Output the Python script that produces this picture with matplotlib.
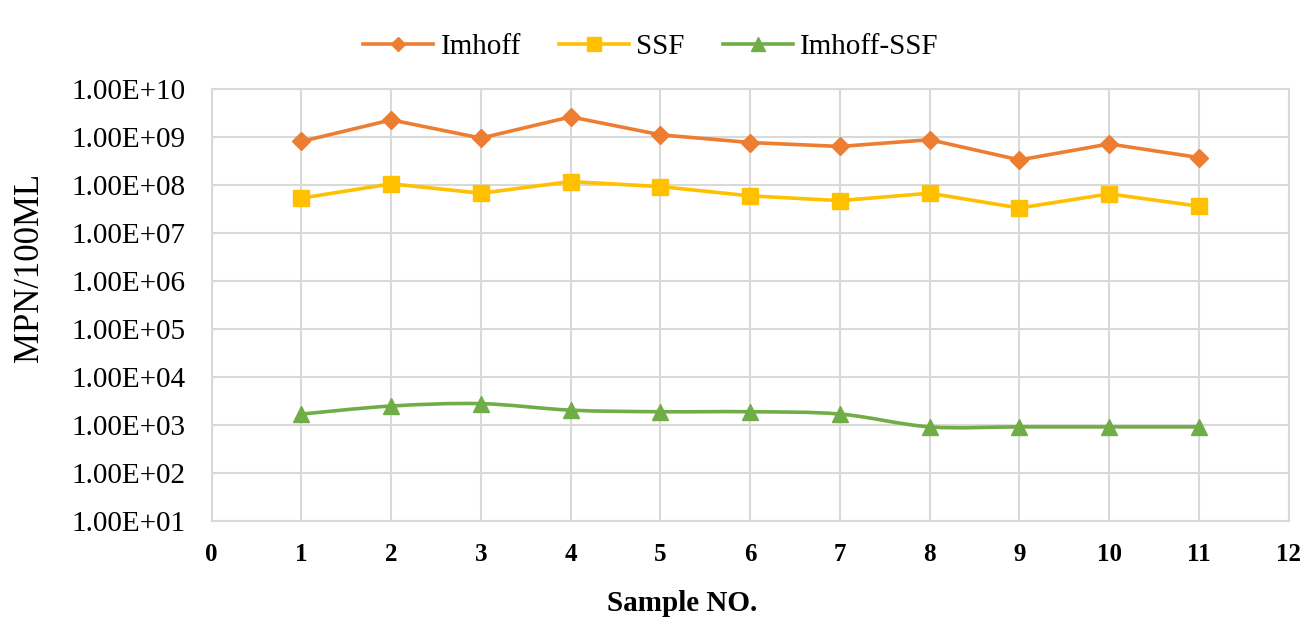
import numpy as np
import matplotlib
matplotlib.use("Agg")
import matplotlib.pyplot as plt
from matplotlib.path import Path
from matplotlib.patches import PathPatch
from matplotlib.lines import Line2D

# values (MPN/100mL)
samples = [1, 2, 3, 4, 5, 6, 7, 8, 9, 10, 11]
imhoff = [8.0e8, 2.25e9, 9.4e8, 2.6e9, 1.1e9, 7.6e8, 6.3e8, 8.7e8, 3.3e8, 7.1e8, 3.7e8]
ssf = [5.3e7, 1.05e8, 6.7e7, 1.17e8, 9.2e7, 5.9e7, 4.7e7, 6.7e7, 3.3e7, 6.5e7, 3.6e7]
imhoff_ssf = [1.7e3, 2.5e3, 2.8e3, 2.05e3, 1.9e3, 1.9e3, 1.7e3, 9.2e2, 9.2e2, 9.2e2, 9.2e2]
series_names = ["Imhoff", "SSF", "Imhoff-SSF"]
xticks = list(range(0, 13))
yticks = [10.0 ** k for k in range(1, 11)]

c_orange = "#ED7D31"
c_yellow = "#FFC000"
c_green = "#70AD47"
serif = "Liberation Serif"

fig = plt.figure(figsize=(13.15, 6.25), dpi=100)
ax = fig.add_axes([0.161, 0.166, 0.819, 0.692])

ax.set_yscale("log")
ax.set_ylim(1e1, 1e10)
ax.set_xlim(0, 12)

ax.plot(samples, imhoff, color=c_orange, lw=2.6, marker="D", ms=9,
        zorder=3, solid_joinstyle="round")
ax.plot(samples, ssf, color=c_yellow, lw=2.6, marker="s", ms=12,
        zorder=3, solid_joinstyle="round")


# smoothed line (Excel style) for Imhoff-SSF, drawn as bezier segments in log space
def smooth_path(xs, ys):
    px = np.asarray(xs, dtype=float)
    py = np.log10(np.asarray(ys, dtype=float))
    verts = [(px[0], 10 ** py[0])]
    codes = [Path.MOVETO]
    n = len(px)
    for i in range(n - 1):
        i0 = max(i - 1, 0)
        i3 = min(i + 2, n - 1)
        c1 = (px[i] + (px[i + 1] - px[i0]) / 6, py[i] + (py[i + 1] - py[i0]) / 6)
        c2 = (px[i + 1] - (px[i3] - px[i]) / 6, py[i + 1] - (py[i3] - py[i]) / 6)
        verts += [(c1[0], 10 ** c1[1]), (c2[0], 10 ** c2[1]), (px[i + 1], 10 ** py[i + 1])]
        codes += [Path.CURVE4] * 3
    return Path(verts, codes)


ax.add_patch(PathPatch(smooth_path(samples, imhoff_ssf), fill=False,
                       edgecolor=c_green, lw=2.6, zorder=3,
                       transform=ax.transData))
ax.plot(samples, imhoff_ssf, ls="none", color=c_green, marker="^", ms=12, zorder=4)

ax.set_xticks(xticks)
ax.set_yticks(yticks)
ax.yaxis.set_minor_locator(matplotlib.ticker.NullLocator())
ax.set_yticklabels([f"{v:.2E}" for v in yticks], fontfamily=serif, fontsize=21)
ax.set_xticklabels([str(v) for v in xticks], fontfamily=serif, fontsize=18,
                   fontweight="bold")
ax.tick_params(length=0)
ax.tick_params(axis="x", pad=16)
ax.tick_params(axis="y", pad=19)

ax.grid(True, color="#D9D9D9", lw=1.5, zorder=0)
ax.set_axisbelow(True)
for s in ax.spines.values():
    s.set_color("#D9D9D9")
    s.set_linewidth(1.5)

ax.set_xlabel("Sample NO.", fontfamily=serif, fontsize=21, fontweight="bold")
ax.xaxis.set_label_coords(0.437, -0.19)
ax.xaxis.label.set_va("center")
ax.set_ylabel("MPN/100ML", fontfamily=serif, fontsize=25)
ax.yaxis.set_label_coords(-0.169, 0.586)
ax.yaxis.label.set_va("center")

handles = [
    Line2D([], [], color=c_orange, lw=2.6, marker="D", ms=7),
    Line2D([], [], color=c_yellow, lw=2.6, marker="s", ms=10),
    Line2D([], [], color=c_green, lw=2.6, marker="^", ms=10),
]
fig.legend(handles, series_names, loc="center", bbox_to_anchor=(0.495, 0.925),
           ncol=3, frameon=False, prop={"family": serif, "size": 21},
           handlelength=2.4, columnspacing=1.3, handletextpad=0.25)

fig.savefig("out.png", dpi=100)
